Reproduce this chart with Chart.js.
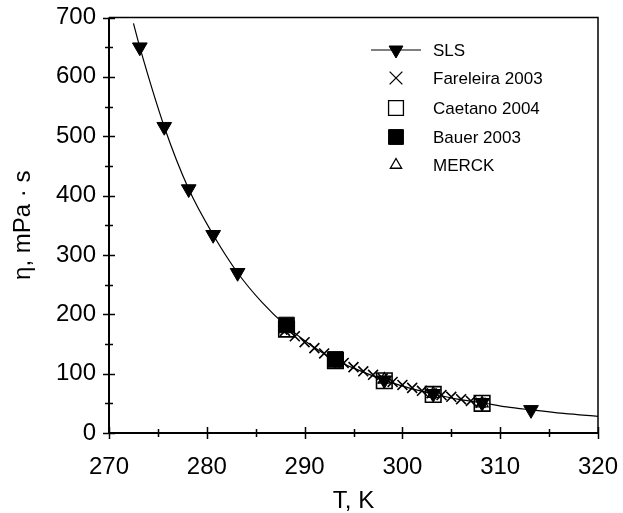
<!DOCTYPE html>
<html><head><meta charset="utf-8">
<script src="https://cdn.jsdelivr.net/npm/chart.js@4/dist/chart.umd.min.js"></script>
<style>html,body{margin:0;padding:0;background:#fff}#wrap{width:623px;height:513px}</style>
</head><body><div id="wrap"><canvas id="c" width="623" height="513"></canvas></div>
<script>
// Data
const xTicks = [270, 280, 290, 300, 310, 320];
const yTicks = [0, 100, 200, 300, 400, 500, 600, 700];
const slsT = [273.15, 275.65, 278.15, 280.65, 283.15, 288.15, 293.15, 298.15, 303.15, 308.15, 313.15];
const slsEta = [650, 516, 411, 334, 270, 180, 123, 89, 66, 51, 39];
const fitT = [272.5, 273.15, 275.65, 278.15, 280.65, 283.15, 285.65, 288.15, 290.65, 293.15, 295.65, 298.15, 300.65, 303.15, 305.65, 308.15, 310.65, 313.15, 316.5, 320];
const fitEta = [690, 650, 516, 411, 334, 270, 220, 180, 148, 123, 105, 89, 76, 66, 57, 51, 44, 39, 33, 28];
const farT = [288, 289, 290, 291, 292, 293, 294, 295, 296, 297, 298, 299, 300, 301, 302, 303, 304, 305, 306, 307, 308];
const farEta = [172, 163, 153, 143, 134, 126, 118, 111, 104, 98, 92, 86, 81, 76, 71, 67, 64, 61, 57, 54, 51];
const caeT = [288.15, 293.15, 298.15, 303.15, 308.15];
const caeEta = [175, 122, 88, 65, 50];
const bauT = [288.15, 293.15];
const bauEta = [182, 124];
const merT = [288.15, 293.15, 298.15, 303.15, 308.15];
const merEta = [178, 123, 90, 66, 50];
const labels = ['SLS', 'Fareleira 2003', 'Caetano 2004', 'Bauer 2003', 'MERCK'];

const pts = (xs, ys) => xs.map((x, i) => ({x: x, y: ys[i]}));

const FONT = 'Liberation Sans, Arial, sans-serif';

const framePlugin = {
  id: 'frame',
  afterDatasetsDraw(chart) {
    const ctx = chart.ctx, a = chart.chartArea;
    const xs = chart.scales.x, ys = chart.scales.y;
    ctx.save();
    ctx.strokeStyle = '#000';
    ctx.lineWidth = 1.5;
    ctx.beginPath();
    ctx.moveTo(a.left, a.top); ctx.lineTo(a.right, a.top); ctx.lineTo(a.right, a.bottom);
    ctx.stroke();
    ctx.lineWidth = 2;
    ctx.beginPath();
    ctx.moveTo(a.left, a.top); ctx.lineTo(a.left, a.bottom); ctx.lineTo(a.right, a.bottom);
    ctx.stroke();
    ctx.lineWidth = 1.5;
    ctx.beginPath();
    for (let v = 270; v <= 320; v += 5) {
      const px = Math.round(xs.getPixelForValue(v)) + 0.5;
      const L = (v % 10 === 0) ? 6 : 4;
      ctx.moveTo(px, a.bottom - L); ctx.lineTo(px, a.bottom + L);
    }
    for (let v = 0; v <= 700; v += 50) {
      const py = Math.round(ys.getPixelForValue(v)) + 0.5;
      const L = (v % 100 === 0) ? 6 : 4;
      ctx.moveTo(a.left - L, py); ctx.lineTo(a.left + L, py);
    }
    ctx.stroke();

    // legend
    const lx = 396, tx = 433;
    const rows = [50, 78, 108, 137, 165];
    ctx.font = '17px ' + FONT;
    ctx.textBaseline = 'middle';
    ctx.textAlign = 'left';
    const H = Chart.helpers;
    labels.forEach((lab, i) => {
      const y = rows[i];
      const ds = chart.data.datasets[i + 1];
      if (i === 0) {
        ctx.lineWidth = 1;
        ctx.strokeStyle = '#000';
        ctx.beginPath(); ctx.moveTo(371, y); ctx.lineTo(421, y); ctx.stroke();
      }
      ctx.strokeStyle = '#000';
      ctx.fillStyle = ds.pointBackgroundColor;
      ctx.lineWidth = ds.legendBorder;
      H.drawPoint(ctx, {pointStyle: ds.pointStyle, rotation: ds.pointRotation || 0, radius: ds.legendRadius, borderWidth: ds.legendBorder}, lx, y);
      ctx.fillStyle = '#000';
      ctx.fillText(lab, tx, y + 1);
    });
    ctx.restore();
  }
};

new Chart(document.getElementById('c'), {
  type: 'scatter',
  data: {
    datasets: [
      {label: 'fit', data: pts(fitT, fitEta), showLine: true, borderColor: '#000', borderWidth: 1.2, pointRadius: 0, cubicInterpolationMode: 'monotone', fill: false},
      {label: labels[0], data: pts(slsT, slsEta), pointStyle: 'triangle', pointRotation: 180, pointRadius: 8.5, legendRadius: 8, legendBorder: 1, pointBackgroundColor: '#000', pointBorderColor: '#000', pointBorderWidth: 1, order: -5},
      {label: labels[1], data: pts(farT, farEta), pointStyle: 'crossRot', pointRadius: 7, legendRadius: 9, legendBorder: 1.3, pointBackgroundColor: '#000', pointBorderColor: '#000', pointBorderWidth: 1.6, order: -1},
      {label: labels[2], data: pts(caeT, caeEta), pointStyle: 'rect', pointRadius: 11, legendRadius: 10.5, legendBorder: 1.3, pointBackgroundColor: 'rgba(0,0,0,0)', pointBorderColor: '#000', pointBorderWidth: 1.6, order: -2},
      {label: labels[3], data: pts(bauT, bauEta), pointStyle: 'rect', pointRadius: 11, legendRadius: 10.5, legendBorder: 1, pointBackgroundColor: '#000', pointBorderColor: '#000', pointBorderWidth: 1, order: -4},
      {label: labels[4], data: pts(merT, merEta), pointStyle: 'triangle', pointRadius: 7, legendRadius: 6.5, legendBorder: 1.3, pointBackgroundColor: 'rgba(0,0,0,0)', pointBorderColor: '#000', pointBorderWidth: 1.3, order: -3}
    ]
  },
  options: {
    responsive: false,
    animation: false,
    events: [],
    layout: {padding: {left: 0, right: 25, top: 17.5, bottom: 0}},
    plugins: {legend: {display: false}, tooltip: {enabled: false}},
    scales: {
      x: {
        type: 'linear', min: 270, max: 320,
        afterBuildTicks: s => { s.ticks = xTicks.map(v => ({value: v})); },
        afterFit: s => { s.height = 80; s.paddingLeft = 0; s.paddingRight = 0; },
        grid: {display: false, drawTicks: false}, border: {display: false},
        ticks: {color: '#000', font: {family: FONT, size: 24, lineHeight: 1}, padding: 22, maxRotation: 0},
        title: {display: true, text: 'T, K', color: '#000', font: {family: FONT, size: 24, lineHeight: 1}, padding: {top: 7, bottom: 0}}
      },
      y: {
        type: 'linear', min: 0, max: 700,
        afterBuildTicks: s => { s.ticks = yTicks.map(v => ({value: v})); },
        afterFit: s => { s.width = 109; s.paddingTop = 0; s.paddingBottom = 0; },
        grid: {display: false, drawTicks: false}, border: {display: false},
        ticks: {color: '#000', font: {family: FONT, size: 24, lineHeight: 1}, padding: 13},
        title: {display: true, text: 'η, mPa · s', color: '#000', font: {family: FONT, size: 24, lineHeight: 1}, padding: {top: 11, bottom: 0}}
      }
    }
  },
  plugins: [framePlugin]
});
</script>
</body></html>
